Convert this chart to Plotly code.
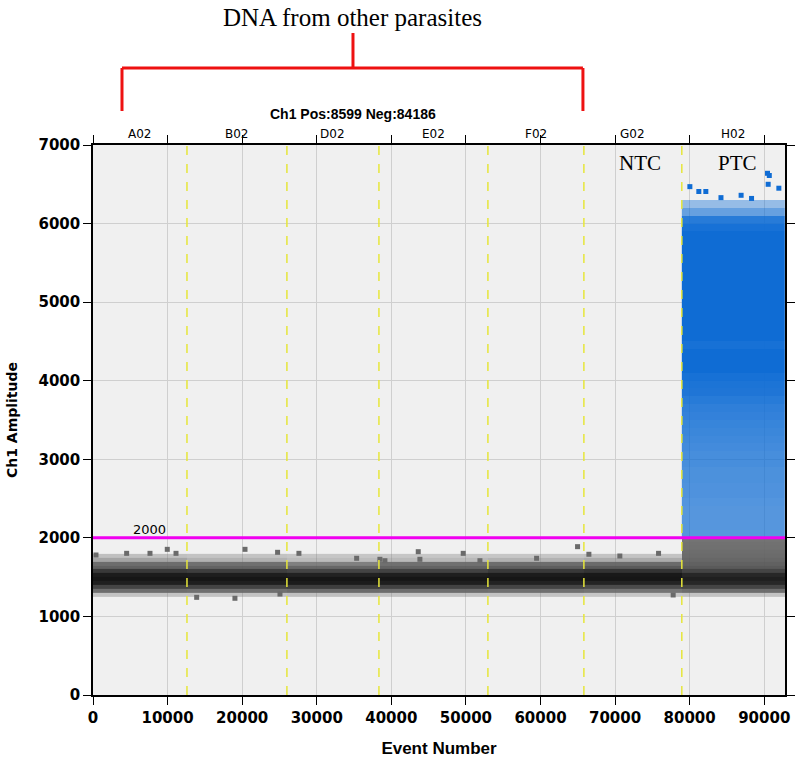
import plotly.graph_objects as go

# well layout (event number boundaries) and names
well_names = ["A02", "B02", "D02", "E02", "F02", "G02", "H02"]
well_edges = [0, 12600, 26000, 38340, 52950, 65820, 78950, 92785]
threshold = 2000

# negative droplet band: density per 50-amplitude bin (1200..2000), one list per well
neg_amp_edges = list(range(1200, 2001, 50))
neg_A02 = [0.0, 0.03, 0.30, 0.60, 0.92, 1.00, 0.95, 0.70, 0.40, 0.30, 0.12, 0.04, 0, 0, 0, 0]
neg_B02 = [0.0, 0.03, 0.28, 0.60, 0.92, 1.00, 0.93, 0.65, 0.38, 0.28, 0.08, 0.03, 0, 0, 0, 0]
neg_D02 = [0.0, 0.04, 0.32, 0.65, 0.95, 1.00, 0.90, 0.60, 0.35, 0.22, 0.05, 0.02, 0, 0, 0, 0]
neg_E02 = [0.0, 0.03, 0.30, 0.62, 0.93, 1.00, 0.92, 0.62, 0.38, 0.28, 0.06, 0.02, 0, 0, 0, 0]
neg_F02 = [0.0, 0.03, 0.28, 0.60, 0.90, 1.00, 0.95, 0.70, 0.42, 0.30, 0.08, 0.02, 0, 0, 0, 0]
neg_G02 = [0.0, 0.02, 0.25, 0.55, 0.88, 1.00, 0.97, 0.75, 0.45, 0.32, 0.10, 0.03, 0, 0, 0, 0]
neg_H02 = [0.0, 0.03, 0.30, 0.60, 0.85, 0.92, 0.85, 0.60, 0.45, 0.40, 0.35, 0.32, 0.30, 0.28, 0.27, 0.25]

# positive droplets (H02 only): density per 100-amplitude bin (2000..6700)
pos_amp_edges = list(range(2000, 6701, 100))
pos_H02 = [0.55, 0.55, 0.55, 0.55, 0.58, 0.60, 0.60, 0.62, 0.62, 0.65,
           0.65, 0.68, 0.70, 0.72, 0.75, 0.78, 0.80, 0.85, 0.90, 0.92,
           0.95, 1.00, 1.00, 1.00, 0.95, 1.00, 1.00, 1.00, 1.00, 1.00,
           1.00, 1.00, 1.00, 1.00, 1.00, 1.00, 1.00, 1.00, 1.00, 0.95,
           0.85, 0.45, 0.15, 0.0, 0.0, 0.0, 0.0]

# isolated droplets
out_neg_x = [400, 4510, 7640, 9960, 11130, 13900, 19030, 20380, 24750, 25070, 27610,
             35350, 38470, 39140, 43610, 43830, 49640, 51880, 59480, 64970, 66490,
             70640, 75830, 77790]
out_neg_y = [1782, 1803, 1803, 1854, 1803, 1243, 1231, 1854, 1816, 1285, 1803,
             1740, 1727, 1709, 1824, 1727, 1803, 1709, 1740, 1888, 1791,
             1769, 1803, 1273]
out_pos_x = [80030, 81230, 82170, 84200, 86900, 88300, 90440, 90530, 90680, 91960]
out_pos_y = [6470, 6408, 6408, 6330, 6360, 6320, 6640, 6500, 6612, 6450]

neg_z = [list(row) for row in zip(neg_A02, neg_B02, neg_D02, neg_E02, neg_F02, neg_G02, neg_H02)]
pos_z = [[v] for v in pos_H02]

fig = go.Figure()
fig.add_trace(go.Heatmap(
    x=well_edges, y=neg_amp_edges, z=neg_z, zmin=0, zmax=1, showscale=False,
    hoverinfo="skip",
    colorscale=[[0, "rgba(240,240,240,0)"], [0.02, "rgba(120,120,120,0.35)"],
                [0.25, "rgba(105,105,105,0.92)"], [0.6, "rgb(68,68,68)"], [1, "rgb(22,22,22)"]],
))
fig.add_trace(go.Heatmap(
    x=well_edges[-2:], y=pos_amp_edges, z=pos_z, zmin=0, zmax=1, showscale=False,
    hoverinfo="skip",
    colorscale=[[0, "rgba(15,110,215,0)"], [0.01, "rgba(15,110,215,0.3)"],
                [1, "rgb(15,108,212)"]],
))
fig.add_trace(go.Scatter(
    x=out_neg_x, y=out_neg_y, mode="markers",
    marker=dict(symbol="square", size=5, color="#6a6a6a"), hoverinfo="skip",
))
fig.add_trace(go.Scatter(
    x=out_pos_x, y=out_pos_y, mode="markers",
    marker=dict(symbol="square", size=5, color="rgb(15,108,212)"), hoverinfo="skip",
))

# well boundaries (yellow dashed)
for xb in well_edges[1:-1]:
    fig.add_shape(type="line", x0=xb, x1=xb, y0=0, y1=7000, xref="x", yref="y",
                  line=dict(color="#e6e63a", width=1.5, dash="dash"), layer="above")

# threshold
fig.add_shape(type="line", x0=0, x1=well_edges[-1], y0=threshold, y1=threshold,
              xref="x", yref="y", line=dict(color="#f000f0", width=3), layer="above")
fig.add_annotation(x=7600, y=threshold, text=str(threshold), showarrow=False,
                   yanchor="bottom", yshift=-1, font=dict(family="DejaVu Sans", size=13, color="black"))

# well labels above the plot
for name, x0, x1 in zip(well_names, well_edges[:-1], well_edges[1:]):
    fig.add_annotation(x=(x0 + x1) / 2, y=1, xref="x", yref="paper", text=name,
                       showarrow=False, yanchor="bottom", yshift=2,
                       font=dict(family="DejaVu Sans", size=12, color="black"))

fig.add_annotation(x=73340, y=6771, text="NTC", showarrow=False, yanchor="middle",
                   font=dict(family="Liberation Serif", size=21, color="black"))
fig.add_annotation(x=86350, y=6771, text="PTC", showarrow=False, yanchor="middle",
                   font=dict(family="Liberation Serif", size=21, color="black"))

# bracket + label for the other-parasite wells
red = dict(color="#ee1111", width=3)
for x0, y0, x1, y1 in [(0.0419, 1.0618, 0.0419, 1.14), (0.0419, 1.14, 0.708, 1.14),
                       (0.708, 1.14, 0.708, 1.0618), (0.3757, 1.14, 0.3757, 1.2036)]:
    fig.add_shape(type="line", xref="paper", yref="paper", x0=x0, y0=y0, x1=x1, y1=y1, line=red)
fig.add_annotation(x=0.3757, y=1.231, xref="paper", yref="paper", text="DNA from other parasites",
                   showarrow=False, yanchor="middle",
                   font=dict(family="Liberation Serif", size=25, color="black"))
fig.add_annotation(x=0.3757, y=1.0565, xref="paper", yref="paper",
                   text="<b>Ch1 Pos:8599 Neg:84186</b>", showarrow=False, yanchor="middle",
                   font=dict(family="Liberation Sans", size=14, color="black"))

axis_font = dict(family="DejaVu Sans", size=15, color="black", weight="bold")
fig.update_layout(
    width=796, height=763,
    margin=dict(l=93, r=11, t=145, b=68),
    paper_bgcolor="white", plot_bgcolor="#f0f0f0",
    showlegend=False,
    xaxis=dict(range=[0, 92785], dtick=10000, tick0=0, tickformat="d", automargin=False,
               showgrid=True, gridcolor="#cfcfcf",
               zeroline=False, showline=True, linecolor="black", linewidth=1.5, mirror="ticks",
               ticks="outside", ticklen=8, tickcolor="black", tickfont=axis_font,
               title=dict(text="<b>Event Number</b>", standoff=16,
                          font=dict(family="Liberation Sans", size=17, color="black"))),
    yaxis=dict(range=[0, 7000], dtick=1000, tickformat="d", automargin=False,
               showgrid=True, gridcolor="#cfcfcf",
               zeroline=False, showline=True, linecolor="black", linewidth=1.5, mirror="ticks",
               ticks="outside", ticklen=8, tickcolor="black", tickfont=axis_font,
               title=dict(text="<b>Ch1 Amplitude</b>", standoff=18,
                          font=dict(family="DejaVu Sans", size=14, color="black"))),
)

fig.write_html("out.html", config={"displayModeBar": False},
               post_script="document.body.style.margin='0';")
